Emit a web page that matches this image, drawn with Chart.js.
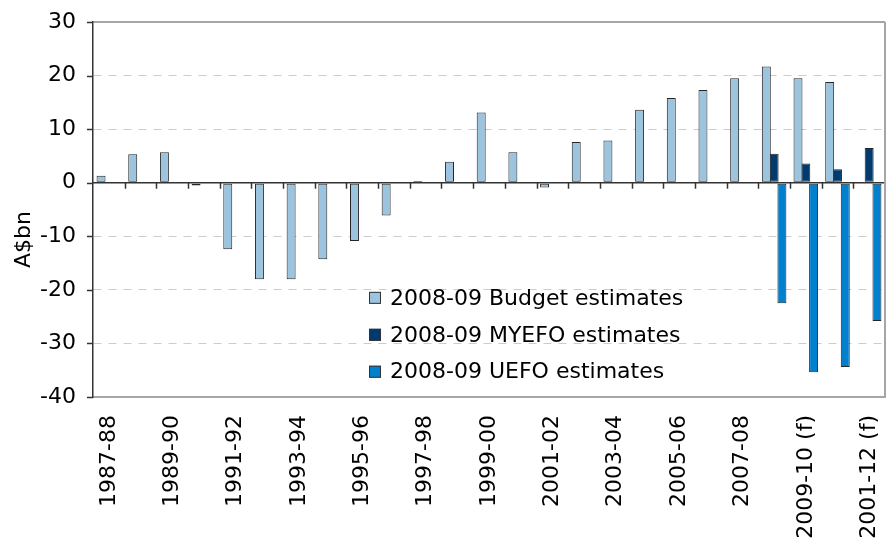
<!DOCTYPE html>
<html>
<head>
<meta charset="utf-8">
<script src="https://cdn.jsdelivr.net/npm/chart.js@4.4.1/dist/chart.umd.min.js"></script>
<style>
  html, body { margin: 0; padding: 0; background: #ffffff; }
  #wrap { width: 886px; height: 542px; position: relative; }
</style>
</head>
<body>
<div id="wrap"><canvas id="c" width="886" height="542"></canvas></div>
<script>
// ---------------- DATA ----------------
const categories = [
  '1987-88','1988-89','1989-90','1990-91','1991-92','1992-93','1993-94','1994-95',
  '1995-96','1996-97','1997-98','1998-99','1999-00','2000-01','2001-02','2002-03',
  '2003-04','2004-05','2005-06','2006-07','2007-08','2008-09','2009-10 (f)','2010-11 (f)','2001-12 (f)'
];
const budgetEstimates = [
  1.3, 5.3, 5.7, -0.5, -12.4, -18.0, -18.0, -14.3,
  -10.9, -6.1, 0.3, 3.9, 13.1, 5.7, -0.9, 7.6,
  7.9, 13.6, 15.8, 17.3, 19.5, 21.7, 19.5, 18.8, null
];
const myefoEstimates = [
  null, null, null, null, null, null, null, null,
  null, null, null, null, null, null, null, null,
  null, null, null, null, null, 5.4, 3.6, 2.5, 6.5
];
const uefoEstimates = [
  null, null, null, null, null, null, null, null,
  null, null, null, null, null, null, null, null,
  null, null, null, null, null, -22.5, -35.4, -34.4, -25.8
];
const seriesNames = ['2008-09 Budget estimates', '2008-09 MYEFO estimates', '2008-09 UEFO estimates'];
const yTickValues = [30, 20, 10, 0, -10, -20, -30, -40];
const yAxisTitle = 'A$bn';

// ---------------- STYLE ----------------
const FONT = '"DejaVu Sans", Verdana, sans-serif';
const colors = ['#9cc4de', '#003a6e', '#0080cf'];
const barBorder = '#262626';

const overlayPlugin = {
  id: 'overlay',
  afterDatasetsDraw(chart) {
    const ctx = chart.ctx;
    const ca = chart.chartArea;
    const xs = chart.scales.x, ys = chart.scales.y;
    const y0 = ys.getPixelForValue(0);
    const n = categories.length;
    const catW = (xs.right - xs.left) / n;
    ctx.save();
    ctx.strokeStyle = '#333333';
    ctx.lineWidth = 1.5;
    // zero line
    ctx.beginPath();
    ctx.moveTo(ca.left, y0);
    ctx.lineTo(ca.right, y0);
    ctx.stroke();
    // tick marks on the zero line at category boundaries
    for (let i = 1; i <= n; i++) {
      const x = Math.round(xs.getPixelForValue(i - 1) + catW / 2) + 0.5;
      ctx.beginPath();
      ctx.moveTo(x, y0);
      ctx.lineTo(x, y0 + 6);
      ctx.stroke();
    }
    // y-axis tick marks (outside, left)
    yTickValues.forEach(v => {
      const y = Math.round(ys.getPixelForValue(v)) + 0.5;
      ctx.beginPath();
      ctx.moveTo(ca.left - 6, y);
      ctx.lineTo(ca.left, y);
      ctx.stroke();
    });
    // right border of plot area
    ctx.strokeStyle = '#a6a6a6';
    ctx.lineWidth = 2;
    ctx.beginPath();
    ctx.moveTo(ca.right, ca.top);
    ctx.lineTo(ca.right, ca.bottom);
    ctx.stroke();
    ctx.restore();
  },
  afterDraw(chart) {
    const ctx = chart.ctx;
    const ca = chart.chartArea;
    const w = ca.right - ca.left, h = ca.bottom - ca.top;
    ctx.save();
    // legend inside plot area
    const bx = ca.left + w * 0.3485;
    const rowStart = ca.top + h * 0.7356;
    const rowGap = h * 0.0985;
    ctx.font = '22px ' + FONT;
    ctx.textBaseline = 'middle';
    ctx.textAlign = 'left';
    seriesNames.forEach((name, i) => {
      const cy = rowStart + i * rowGap;
      ctx.fillStyle = colors[i];
      ctx.fillRect(bx, cy - 6, 12, 12);
      ctx.strokeStyle = '#333333';
      ctx.lineWidth = 1;
      ctx.strokeRect(bx + 0.5, cy - 5.5, 11, 11);
      ctx.fillStyle = '#000000';
      ctx.fillText(name, bx + 21, cy + 1);
    });
    // y axis title
    ctx.translate(24, ca.top + h * 0.58);
    ctx.rotate(-Math.PI / 2);
    ctx.textAlign = 'center';
    ctx.textBaseline = 'middle';
    ctx.fillText(yAxisTitle, 0, 0);
    ctx.restore();
  }
};

const specialLines = [30, 0, -40];

new Chart(document.getElementById('c'), {
  type: 'bar',
  data: {
    labels: categories,
    datasets: [
      { label: seriesNames[0], data: budgetEstimates, backgroundColor: colors[0] },
      { label: seriesNames[1], data: myefoEstimates, backgroundColor: colors[1] },
      { label: seriesNames[2], data: uefoEstimates, backgroundColor: colors[2] }
    ]
  },
  options: {
    responsive: false,
    animation: false,
    devicePixelRatio: 1,
    layout: { padding: { top: 22, right: 1, bottom: 0, left: 0 } },
    datasets: {
      bar: {
        barPercentage: 1.15,
        categoryPercentage: 0.738,
        borderWidth: 1,
        borderColor: barBorder,
        borderSkipped: false
      }
    },
    plugins: {
      legend: { display: false },
      tooltip: { enabled: false },
      title: { display: false }
    },
    scales: {
      x: {
        grid: {
          display: true,
          drawOnChartArea: false,
          drawTicks: true,
          tickLength: 18,
          color: 'rgba(0,0,0,0)',
          tickColor: 'rgba(0,0,0,0)'
        },
        border: { display: true, color: '#a6a6a6', width: 2 },
        ticks: {
          autoSkip: false,
          minRotation: 90,
          maxRotation: 90,
          padding: 0,
          color: '#000000',
          font: { family: FONT, size: 22 },
          callback: (v, i) => (i % 2 === 0 ? categories[i] : '')
        },
        afterFit: (scale) => {
          scale.height = 145;
          scale.paddingLeft = 0;
          scale.paddingRight = 0;
        }
      },
      y: {
        min: -40,
        max: 30,
        afterBuildTicks: (scale) => { scale.ticks = yTickValues.map(v => ({ value: v })); },
        grid: {
          color: (c) => (c.tick && c.tick.value === 0) ? 'rgba(0,0,0,0)' :
                        (c.tick && specialLines.includes(c.tick.value)) ? '#a6a6a6' : '#cccccc',
          lineWidth: (c) => (c.tick && specialLines.includes(c.tick.value)) ? 2 : 1,
          drawTicks: true,
          tickLength: 17,
          tickColor: 'rgba(0,0,0,0)'
        },
        border: {
          display: true,
          color: '#333333',
          width: 1.5,
          dash: (c) => (c.tick && specialLines.includes(c.tick.value)) ? [] : [8, 7]
        },
        ticks: {
          padding: 0,
          color: '#000000',
          font: { family: FONT, size: 22 }
        },
        afterFit: (scale) => { scale.width = 93; }
      }
    }
  },
  plugins: [overlayPlugin]
});
</script>
</body>
</html>
